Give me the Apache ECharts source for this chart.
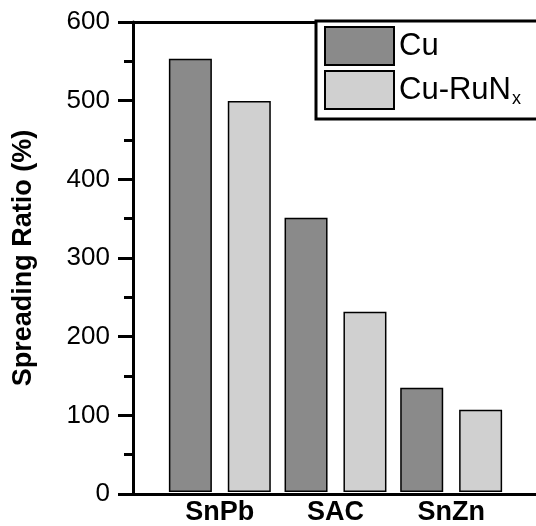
<!DOCTYPE html>
<html>
<head>
<meta charset="utf-8">
<script src="https://cdn.jsdelivr.net/npm/echarts@6/dist/echarts.min.js"></script>
<style>
  html, body { margin: 0; padding: 0; background: #fff; }
  #chart { width: 536px; height: 526px; }
</style>
</head>
<body>
<div id="chart"></div>
<script>
// 数据
const categories = ['SnPb', 'SAC', 'SnZn'];
const cuValues = [553, 350, 133];
const runxValues = [499, 230, 105];
const yTicks = { min: 0, max: 600, interval: 100 };

const font = 'Liberation Sans, Arial, sans-serif';
const chart = echarts.init(document.getElementById('chart'));

const option = {
    backgroundColor: '#fff',
    animation: false,
    grid: [
        // 坐标框
        { left: 133, top: 22, right: -4, bottom: 32 },
        // 柱子
        { left: 162, width: 347, top: 22, bottom: 32 }
    ],
    legend: {
        orient: 'vertical',
        left: 316,
        top: 21,
        padding: [5, 40, 9, 8],
        itemWidth: 69,
        itemHeight: 38,
        itemGap: 4,
        backgroundColor: '#fff',
        borderColor: '#000',
        borderWidth: 3,
        borderRadius: 0,
        icon: 'rect',
        formatter: function(name) {
            if (name === 'Cu-RuNx') {
                return '{a|Cu-RuN}{s|x}';
            }
            return '{a|' + name + '}';
        },
        textStyle: {
            fontFamily: font,
            color: '#000',
            rich: {
                a: { fontFamily: font, fontSize: 31, color: '#000', lineHeight: 36 },
                s: { fontFamily: font, fontSize: 18, color: '#000', lineHeight: 36, padding: [18, 0, 0, 1] }
            }
        },
        data: ['Cu', 'Cu-RuNx']
    },
    xAxis: [
        {
            gridIndex: 0, type: 'value', min: 0, max: 1, position: 'bottom',
            axisLine: { show: true, lineStyle: { color: '#000', width: 3 } },
            axisTick: { show: false }, axisLabel: { show: false }, splitLine: { show: false }
        },
        {
            gridIndex: 0, type: 'value', min: 0, max: 1, position: 'top',
            axisLine: { show: true, lineStyle: { color: '#000', width: 3 } },
            axisTick: { show: false }, axisLabel: { show: false }, splitLine: { show: false }
        },
        {
            gridIndex: 1, type: 'category', data: categories,
            axisLine: { show: false }, axisTick: { show: false },
            axisLabel: { fontFamily: font, fontSize: 27, fontWeight: 'bold', color: '#000', margin: 7 }
        }
    ],
    yAxis: [
        {
            gridIndex: 0, type: 'value',
            min: yTicks.min, max: yTicks.max, interval: yTicks.interval,
            name: 'Spreading Ratio (%)',
            nameLocation: 'middle',
            nameGap: 96,
            nameTextStyle: { fontFamily: font, fontSize: 27, fontWeight: 'bold', color: '#000' },
            axisLine: { show: true, lineStyle: { color: '#000', width: 3 } },
            axisTick: { show: true, length: 15, lineStyle: { color: '#000', width: 3 } },
            minorTick: { show: true, splitNumber: 2, length: 9, lineStyle: { color: '#000', width: 3 } },
            axisLabel: { fontFamily: font, fontSize: 26, color: '#000', margin: 23 },
            splitLine: { show: false }
        },
        {
            gridIndex: 1, type: 'value',
            min: yTicks.min, max: yTicks.max, show: false
        }
    ],
    series: [
        {
            name: 'Cu', type: 'bar', xAxisIndex: 2, yAxisIndex: 1,
            data: cuValues, barWidth: 43, barGap: '37%',
            itemStyle: { color: '#8a8a8a', borderColor: '#000', borderWidth: 1.5 }
        },
        {
            name: 'Cu-RuNx', type: 'bar', xAxisIndex: 2, yAxisIndex: 1,
            data: runxValues, barWidth: 43, barGap: '37%',
            itemStyle: { color: '#d0d0d0', borderColor: '#000', borderWidth: 1.5 }
        }
    ]
};

chart.setOption(option);
</script>
</body>
</html>
